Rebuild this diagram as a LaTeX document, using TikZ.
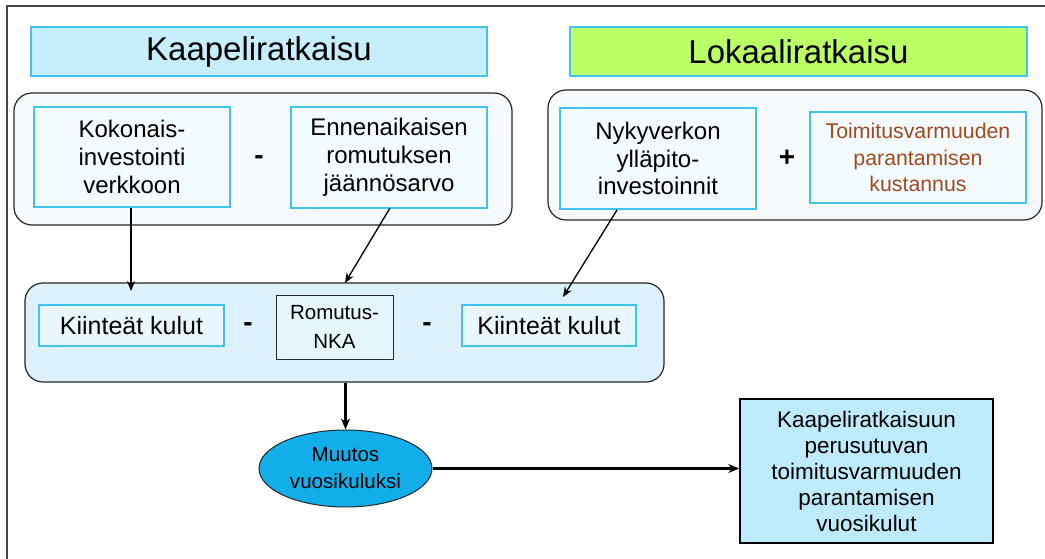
\documentclass[tikz,border=0pt]{standalone}
\usepackage{fontspec}
\setmainfont{Liberation Sans}
\usetikzlibrary{arrows.meta,shapes.geometric}
\definecolor{hdrblue}{HTML}{C6EEFC}
\definecolor{hdrlime}{HTML}{BBFF66}
\definecolor{cyanline}{HTML}{40C4EE}
\definecolor{paleblue}{HTML}{F3FAFE}
\definecolor{contfill}{HTML}{F6FAFC}
\definecolor{midfill}{HTML}{DCF1FB}
\definecolor{ellfill}{HTML}{12AEEA}
\definecolor{finalfill}{HTML}{BEEBFC}
\definecolor{brownt}{HTML}{A04A1E}
\definecolor{frame}{HTML}{444444}
\tikzset{
  hdr/.style={draw=cyanline, line width=1.2pt, inner sep=0pt, font=\fontsize{33}{38}\selectfont},
  cont/.style={draw=black!85, line width=1.2pt, rounded corners=18pt, inner sep=0pt},
  cbox/.style={draw=cyanline, line width=1.2pt, fill=paleblue, inner sep=0pt, align=center, font=\fontsize{24}{27.8}\selectfont},
  op/.style={inner sep=0pt, font=\fontsize{28}{30}\selectfont\bfseries},
  thin/.style={line width=1.3pt, -{Stealth[length=10pt,width=8pt]}},
  thick/.style={line width=2.6pt, -{Stealth[length=11pt,width=9pt]}}
}
\begin{document}
\begin{tikzpicture}[x=1pt,y=-1pt]
\useasboundingbox (0,0) rectangle (1045,559);
\fill[white] (0,0) rectangle (1045,559);
\draw[frame, line width=2pt] (7,559) -- (7,6) -- (1045,6);

\node[hdr, fill=hdrblue, minimum width=456pt, minimum height=49pt] (hl) at (259,51.5) {Kaapeliratkaisu};
\node[hdr, fill=hdrlime, minimum width=457pt, minimum height=49pt] (hr) at (798.5,51.5) {Lokaaliratkaisu};

\node[cont, fill=contfill, minimum width=498pt, minimum height=132pt] (cl) at (263,159) {};
\node[cont, fill=contfill, minimum width=494pt, minimum height=130pt] (cr) at (795,155) {};

\node[cbox, minimum width=196pt, minimum height=100pt] (kok) at (132,157) {Kokonais-\\investointi\\verkkoon};
\node[op] (m1) at (259,160) {-};
\node[cbox, minimum width=196pt, minimum height=101pt] (enn) at (389,157.5) {Ennenaikaisen\\romutuksen\\jäännösarvo};

\node[cbox, minimum width=196pt, minimum height=101pt] (nyk) at (658,158.5) {Nykyverkon\\ylläpito-\\investoinnit};
\node[op] (p1) at (787,158) {+};
\node[cbox, minimum width=216pt, minimum height=91pt, text=brownt, font=\fontsize{21.3}{26.5}\selectfont] (toi) at (918,157.5) {Toimitusvarmuuden\\parantamisen\\kustannus};

\node[cont, fill=midfill, minimum width=639pt, minimum height=99pt] (mid) at (344.5,332.5) {};
\node[cbox, fill=paleblue!60!midfill, minimum width=185pt, minimum height=41pt, font=\fontsize{25}{28}\selectfont] (k1) at (131.5,325.5) {Kiinteät kulut};
\node[op] (m2) at (248,327) {-};
\node[draw=black!85, line width=1pt, fill=paleblue!40!midfill, minimum width=117pt, minimum height=64pt, inner sep=0pt, align=center, font=\fontsize{20.5}{29}\selectfont] (rom) at (334.5,327) {Romutus-\\NKA};
\node[op] (m3) at (427,327) {-};
\node[cbox, fill=paleblue!60!midfill, minimum width=174pt, minimum height=41pt, font=\fontsize{25}{28}\selectfont] (k2) at (549,325.5) {Kiinteät kulut};

\node[ellipse, draw=black!85, line width=1pt, fill=ellfill, minimum width=173pt, minimum height=77pt, inner sep=0pt, align=center, font=\fontsize{20.6}{27}\selectfont] (ell) at (345.5,468.5) {Muutos\\vuosikuluksi};
\node[draw=black, line width=1.5pt, fill=finalfill, minimum width=253pt, minimum height=144pt, inner sep=0pt, align=center, font=\fontsize{22.5}{26}\selectfont] (fin) at (866.5,471) {Kaapeliratkaisuun\\perusutuvan\\toimitusvarmuuden\\parantamisen\\vuosikulut};

\coordinate (t1) at (131,291);
\coordinate (s2) at (390,208);
\coordinate (t2) at (345,283);
\coordinate (s3) at (617,210);
\coordinate (t3) at (563,297);
\draw[thin] (kok.south -| t1) -- (t1);
\draw[thin] (s2) -- (t2);
\draw[thin] (s3) -- (t3);
\draw[thick] (mid.south -| ell.north) -- (ell.north);
\draw[thick] (ell.east) -- (ell.east -| fin.west);
\end{tikzpicture}
\end{document}
